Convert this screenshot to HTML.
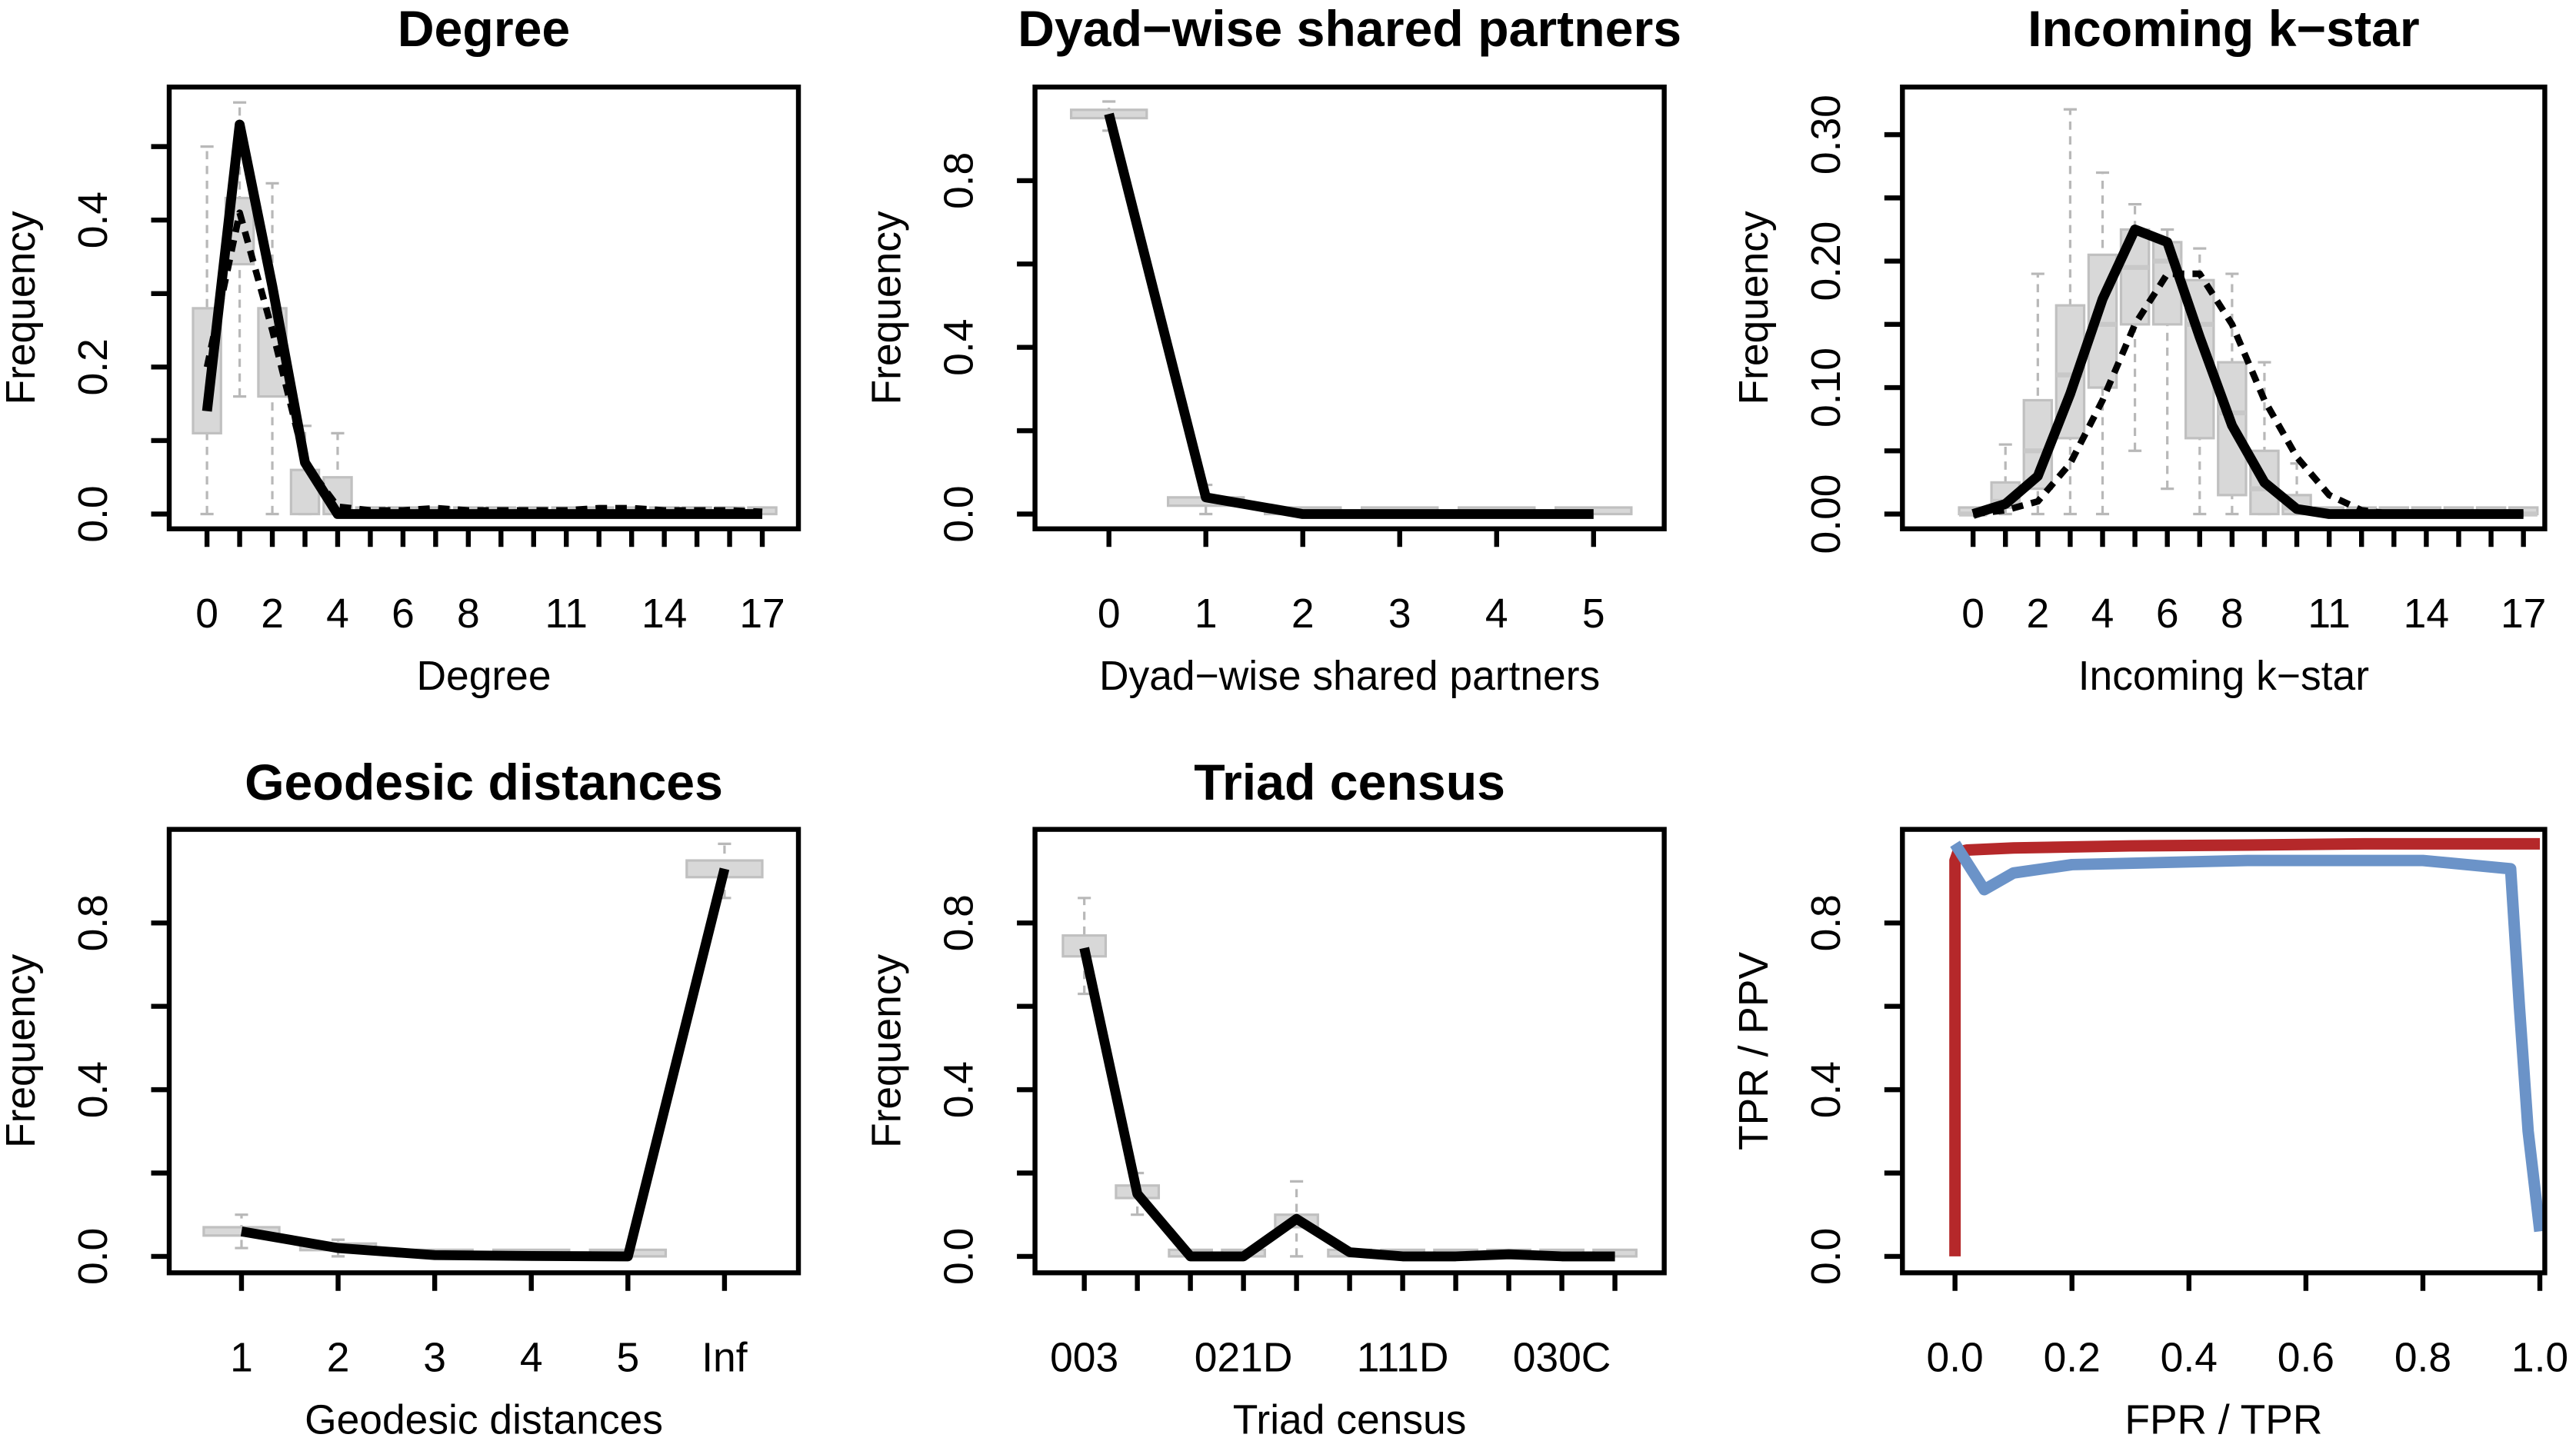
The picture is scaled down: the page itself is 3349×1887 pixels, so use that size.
<!DOCTYPE html>
<html><head><meta charset="utf-8"><style>
html,body{margin:0;padding:0;background:#fff;}
svg{display:block;}
text{font-family:"Liberation Sans",sans-serif;fill:#000;}
</style></head><body>
<svg id="chart" width="3349" height="1887" viewBox="0 0 1568 883.5" preserveAspectRatio="none" xmlns="http://www.w3.org/2000/svg"></svg>
<script>
// ---- Degree panel data ----
const degCats = [0,1,2,3,4,5,6,7,8,9,10,11,12,13,14,15,16,17];
const degLabels = ["0","2","4","6","8","11","14","17"];
const degLabelAt = [0,2,4,6,8,11,14,17];
const degObs = [0.14,0.53,0.31,0.07,0,0,0,0,0,0,0,0,0,0,0,0,0,0];
const degSim = [0.20,0.41,0.25,0.07,0.01,0.005,0.005,0.008,0.005,0.005,0.005,0.005,0.008,0.008,0.005,0.005,0.005,0.003];
const degQ1 = [0.11,0.34,0.16,0,0,0,0,0,0,0,0,0,0,0,0,0,0,0];
const degQ3 = [0.28,0.43,0.28,0.06,0.05,0,0,0,0,0,0,0,0,0,0,0,0,0];
const degLo = [0,0.16,0,0,0,0,0,0,0,0,0,0,0,0,0,0,0,0];
const degHi = [0.5,0.56,0.45,0.12,0.11,0,0,0,0,0,0,0,0,0,0,0,0,0];
// ---- Dyad-wise shared partners ----
const dspCats = [0,1,2,3,4,5];
const dspObs = [0.96,0.04,0.0,0,0,0];
const dspQ1 = [0.95,0.02,0,0,0,0];
const dspQ3 = [0.97,0.04,0,0,0,0];
const dspLo = [0.92,0.0,0,0,0,0];
const dspHi = [0.99,0.07,0,0,0,0];
// ---- Incoming k-star ----
const iksCats = [0,1,2,3,4,5,6,7,8,9,10,11,12,13,14,15,16,17];
const iksLabelAt = [0,2,4,6,8,11,14,17];
const iksObs = [0,0.008,0.03,0.095,0.17,0.225,0.215,0.14,0.07,0.025,0.004,0,0,0,0,0,0,0];
const iksSim = [0,0.003,0.01,0.04,0.09,0.15,0.19,0.19,0.15,0.09,0.045,0.015,0.003,0,0,0,0,0];
const iksQ1 = [0,0.005,0.02,0.06,0.10,0.15,0.15,0.06,0.015,0,0,0,0,0,0,0,0,0];
const iksQ3 = [0,0.025,0.09,0.165,0.205,0.225,0.215,0.185,0.12,0.05,0.015,0,0,0,0,0,0,0];
const iksMed = [0,0.01,0.05,0.11,0.15,0.195,0.2,0.15,0.08,0.02,0.005,0,0,0,0,0,0,0];
const iksLo = [0,0,0,0,0,0.05,0.02,0,0,0,0,0,0,0,0,0,0,0];
const iksHi = [0,0.055,0.19,0.32,0.27,0.245,0.225,0.21,0.19,0.12,0.04,0,0,0,0,0,0,0];
// ---- Geodesic distances ----
const geoLabels = ["1","2","3","4","5","Inf"];
const geoObs = [0.06,0.02,0.003,0.001,0.0,0.93];
const geoQ1 = [0.05,0.015,0,0,0,0.91];
const geoQ3 = [0.07,0.03,0,0,0,0.95];
const geoLo = [0.02,0.0,0,0,0,0.86];
const geoHi = [0.10,0.04,0,0,0,0.99];
// ---- Triad census ----
const triLabels = ["003","012","102","021D","021U","021C","111D","111U","030T","030C","201"];
const triShown = [0,3,6,9];
const triObs = [0.74,0.15,0.0,0.0,0.09,0.01,0.0,0.0,0.005,0.0,0.0];
const triQ1 = [0.72,0.14,0,0,0.07,0,0,0,0,0,0];
const triQ3 = [0.77,0.17,0,0,0.10,0,0,0,0,0,0];
const triLo = [0.63,0.10,0,0,0.0,0,0,0,0,0,0];
const triHi = [0.86,0.20,0,0,0.18,0,0,0,0,0,0];
// ---- ROC / PR ----
const rocX = [0,0,0.005,0.02,0.1,0.3,0.5,0.7,0.9,1.0];
const rocY = [0,0.95,0.97,0.975,0.98,0.985,0.987,0.99,0.99,0.99];
const prX = [0,0.05,0.1,0.2,0.5,0.8,0.95,0.965,0.98,1.0];
const prY = [0.99,0.88,0.92,0.94,0.95,0.95,0.93,0.6,0.3,0.06];
const yTicks01 = [0,0.2,0.4,0.6,0.8];
const yLabels01 = ["0.0","0.4","0.8"];

const NS="http://www.w3.org/2000/svg";
const svg=document.getElementById('chart');
function el(tag,attrs,parent,txt){const e=document.createElementNS(NS,tag);for(const k in attrs)e.setAttribute(k,attrs[k]);if(txt!==undefined)e.textContent=txt;(parent||svg).appendChild(e);return e;}

function panel(o){
  const g=el('g',{});
  
  
  const sy=v=>o.y0-(v-o.ymin)/(o.ymax-o.ymin)*(o.y0-o.y1);
  const sx=i=>o.x0+(i-o.imin)*(o.x1-o.x0)/(o.imax-o.imin);
  if(o.q1){
    const w=o.bw;
    for(let i=0;i<o.q1.length;i++){
      const cx=sx(o.cats?o.cats[i]:i);
      const wl=el('line',{x1:cx,x2:cx,y1:sy(o.lo[i]),y2:sy(o.hi[i]),stroke:'#b8b8b8','stroke-width':1.5,'stroke-dasharray':'5,4'},g);
      
      
      if(o.hi[i]>0.001){el('line',{x1:cx-4,x2:cx+4,y1:sy(o.hi[i]),y2:sy(o.hi[i]),stroke:'#b8b8b8','stroke-width':1.5},g);}
      if(o.lo[i]>0.001||o.hi[i]>0.001){el('line',{x1:cx-4,x2:cx+4,y1:sy(o.lo[i]),y2:sy(o.lo[i]),stroke:'#b8b8b8','stroke-width':1.5},g);}
      const top=sy(o.q3[i]),bot=sy(o.q1[i]);
      const r=el('rect',{x:cx-w/2,y:Math.min(top,bot-4),width:w,height:Math.max(bot-top,4),fill:'#d8d8d8',stroke:'#c0c0c0','stroke-width':1.5},g);
      
      
      if(o.med){el('line',{x1:cx-w/2,x2:cx+w/2,y1:sy(o.med[i]),y2:sy(o.med[i]),stroke:'#c8c8c8','stroke-width':3},g);}
    }
  }
  (o.lines||[]).forEach(L=>{
    const pts=L.xs.map((x,i)=>sx(x)+','+sy(L.ys[i])).join(' ');
    const p=el('polyline',{points:pts,fill:'none',stroke:L.color,'stroke-width':L.w,'stroke-linejoin':'round','stroke-dasharray':L.dash||'none'},g);
    
    
  });
  const fr=el('rect',{x:o.bx0,y:o.by0,width:o.bx1-o.bx0,height:o.by1-o.by0,fill:'none',stroke:'#000','stroke-width':3},g);
  
  
  o.yt.forEach(v=>{el('line',{x1:o.bx0-11,x2:o.bx0,y1:sy(v),y2:sy(v),stroke:'#000','stroke-width':3},g);});
  o.yl.forEach((lab,k)=>{const v=o.ylv[k];const t=el('text',{x:0,y:0,'font-size':25,'text-anchor':'middle',transform:`translate(${o.bx0-38},${sy(v)}) rotate(-90)`},g,lab);
    
    });
  o.xt.forEach(v=>{el('line',{x1:sx(v),x2:sx(v),y1:o.by1,y2:o.by1+11,stroke:'#000','stroke-width':3},g);});
  o.xl.forEach((lab,k)=>{const t=el('text',{x:sx(o.xlv[k]),y:o.by1+60,'font-size':25,'text-anchor':'middle'},g,lab);
    
    });
  if(o.title){const t=el('text',{x:(o.bx0+o.bx1)/2,y:o.by0-o.toff,'font-size':31,'font-weight':'bold','text-anchor':'middle'},g,o.title);
    
    }
  const xt=el('text',{x:(o.bx0+o.bx1)/2,y:o.by1+98,'font-size':25,'text-anchor':'middle'},g,o.xlab);
  
  
  const yt=el('text',{x:0,y:0,'font-size':25,'text-anchor':'middle',transform:`translate(${o.bx0-82},${(o.by0+o.by1)/2}) rotate(-90)`},g,o.ylab);
  
  
}
const idx=n=>Array.from({length:n},(_,i)=>i);

panel({name:'degree',bx0:103,bx1:486,by0:53,by1:322,x0:126,x1:464,imin:0,imax:17,y0:313,y1:134,ymin:0,ymax:0.4,toff:25,
  cats:degCats,q1:degQ1,q3:degQ3,lo:degLo,hi:degHi,bw:17,
  lines:[{name:'simulated-mean-line',xs:degCats,ys:degSim,color:'#000',w:4,dash:'7,5'},{name:'observed-line',xs:degCats,ys:degObs,color:'#000',w:6}],
  yt:[0,0.1,0.2,0.3,0.4,0.5],yl:["0.0","0.2","0.4"],ylv:[0,0.2,0.4],xt:degCats,xl:degLabels,xlv:degLabelAt,
  title:'Degree',xlab:'Degree',ylab:'Frequency'});

panel({name:'dyadwise-shared-partners',bx0:630,bx1:1013,by0:53,by1:322,x0:675,x1:970,imin:0,imax:5,y0:313,y1:110,ymin:0,ymax:0.8,toff:25,
  cats:dspCats,q1:dspQ1,q3:dspQ3,lo:dspLo,hi:dspHi,bw:46,
  lines:[{name:'observed-line',xs:dspCats,ys:dspObs,color:'#000',w:6}],
  yt:yTicks01,yl:yLabels01,ylv:[0,0.4,0.8],xt:dspCats,xl:dspCats.map(String),xlv:dspCats,
  title:'Dyad\u2212wise shared partners',xlab:'Dyad\u2212wise shared partners',ylab:'Frequency'});

panel({name:'incoming-kstar',bx0:1158,bx1:1549,by0:53,by1:322,x0:1201,x1:1536,imin:0,imax:17,y0:313,y1:82,ymin:0,ymax:0.3,toff:25,
  cats:iksCats,q1:iksQ1,q3:iksQ3,med:iksMed,lo:iksLo,hi:iksHi,bw:17,
  lines:[{name:'simulated-mean-line',xs:iksCats,ys:iksSim,color:'#000',w:4,dash:'7,5'},{name:'observed-line',xs:iksCats,ys:iksObs,color:'#000',w:6}],
  yt:[0,0.05,0.1,0.15,0.2,0.25,0.3],yl:["0.00","0.10","0.20","0.30"],ylv:[0,0.1,0.2,0.3],xt:iksCats,xl:iksLabelAt.map(String),xlv:iksLabelAt,
  title:'Incoming k\u2212star',xlab:'Incoming k\u2212star',ylab:'Frequency'});

panel({name:'geodesic-distances',bx0:103,bx1:486,by0:505,by1:775,x0:147,x1:441,imin:0,imax:5,y0:765,y1:562,ymin:0,ymax:0.8,toff:18,
  q1:geoQ1,q3:geoQ3,lo:geoLo,hi:geoHi,bw:46,
  lines:[{name:'observed-line',xs:idx(6),ys:geoObs,color:'#000',w:6}],
  yt:yTicks01,yl:yLabels01,ylv:[0,0.4,0.8],xt:idx(6),xl:geoLabels,xlv:idx(6),
  title:'Geodesic distances',xlab:'Geodesic distances',ylab:'Frequency'});

panel({name:'triad-census',bx0:630,bx1:1013,by0:505,by1:775,x0:660,x1:983,imin:0,imax:10,y0:765,y1:562,ymin:0,ymax:0.8,toff:18,
  q1:triQ1,q3:triQ3,lo:triLo,hi:triHi,bw:26,
  lines:[{name:'observed-line',xs:idx(11),ys:triObs,color:'#000',w:6}],
  yt:yTicks01,yl:yLabels01,ylv:[0,0.4,0.8],xt:idx(11),xl:triShown.map(i=>triLabels[i]),xlv:triShown,
  title:'Triad census',xlab:'Triad census',ylab:'Frequency'});

panel({name:'roc-pr',bx0:1158,bx1:1549,by0:505,by1:775,x0:1190,x1:1546,imin:0,imax:1,y0:765,y1:562,ymin:0,ymax:0.8,toff:18,
  lines:[{name:'roc-curve',xs:rocX,ys:rocY,color:'#b5282a',w:7},{name:'pr-curve',xs:prX,ys:prY,color:'#6b93c8',w:7}],
  yt:yTicks01,yl:yLabels01,ylv:[0,0.4,0.8],xt:[0,0.2,0.4,0.6,0.8,1.0],xl:["0.0","0.2","0.4","0.6","0.8","1.0"],xlv:[0,0.2,0.4,0.6,0.8,1.0],
  title:'',xlab:'FPR / TPR',ylab:'TPR / PPV'});
</script>
</body></html>
